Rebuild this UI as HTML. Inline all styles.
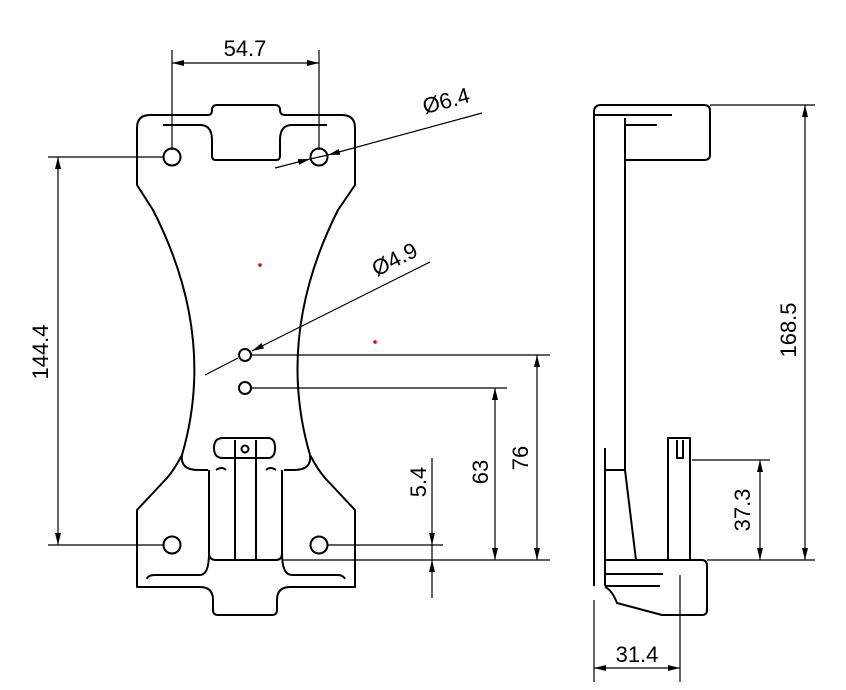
<!DOCTYPE html>
<html><head><meta charset="utf-8"><style>body{margin:0;background:#fff}svg{display:block}text{font-family:"Liberation Sans",sans-serif;font-size:22px;fill:#000}</style></head><body>
<svg width="846" height="690" viewBox="0 0 846 690" xmlns="http://www.w3.org/2000/svg">
<defs><marker id="a" viewBox="0 0 12 6" refX="12" refY="3" markerWidth="12" markerHeight="6" orient="auto-start-reverse" markerUnits="userSpaceOnUse"><path d="M0,0L12,3L0,6z" fill="#000"/></marker></defs>
<g fill="none" stroke="#000" stroke-width="2" stroke-linejoin="round">
<path d="M150,115 H208 Q212,115 212,110 Q212,105 217,105 H275 Q280,105 280,110 Q280,115 285,115 H342 Q355,115 355,128 V185 L338,210 Q275,335 310,455 Q318,470 325,478 L355,510 V587 H290 Q277,587 277,600 V610 Q277,615 272,615 H218 Q213,615 213,610 V600 Q213,587 200,587 H137 V510 L167,478 Q174,470 182,455 Q217,335 153,210 L137,185 V128 Q137,115 150,115Z"/>
<path d="M163,125 H200 Q212,125 212,140 V156 Q212,160 216,160 H276 Q280,160 280,156 V140 Q280,125 292,125 H327"/>
<path d="M182,455 Q180,470 198,470 H208"/><path d="M310,455 Q312,470 294,470 H284"/>
<path d="M216,470 Q222,466 226,470"/><path d="M266,470 Q270,466 276,470"/>
<path d="M209,470 V553 Q209,560 216,560 H276 Q282,560 282,553 V470"/>
<path d="M209,553 Q209,575 200,575 H155 Q148,575 147,579"/><path d="M282,553 Q282,575 292,575 H338 Q343,575 345,579"/>
<path d="M235,440 V560 M256,440 V560"/>
<path d="M223,438 H268 Q275,438 275,448 Q275,458 268,458 H223 Q214,458 214,448 Q214,438 223,438Z"/>
<circle cx="245" cy="449" r="3.5"/>
<circle cx="172" cy="157" r="8.5"/><circle cx="319" cy="157" r="8.5"/>
<circle cx="172" cy="545" r="8.5"/><circle cx="319" cy="545" r="8.5"/>
<circle cx="245" cy="355" r="6"/><circle cx="245" cy="388" r="6"/>
<path d="M594,586 V112 Q594,105 601,105 H704 Q710,105 710,111 V155 Q710,160 704,160 H625"/>
<path d="M594,115 H672 M625,125 H657 M625,118 V470 M605,448 V586 M605,470 H625 L636,560"/>
<path d="M605,560 H702 Q707,560 707,566 V610 Q707,615 702,615 H662 L617,603 Q612,590 605,587"/>
<path d="M605,574 H663 M605,586 H660"/>
<path d="M668,560 V438 H690 V560 M677,440 V458 H683 V440"/>
</g>
<g fill="none" stroke="#000" stroke-width="1.2">
<path d="M172,50 V150 M319,50 V150"/>
<path d="M172,63 H319" marker-start="url(#a)" marker-end="url(#a)"/>
<path d="M48,157 H164 M48,545 H164"/>
<path d="M58,157 V545" marker-start="url(#a)" marker-end="url(#a)"/>
<path d="M275,168 L310,159" marker-end="url(#a)"/><path d="M482,113 L328,155" marker-end="url(#a)"/><path d="M310,159 L328,155"/>
<path d="M205,375 L238,358"/><path d="M430,262 L252,351" marker-end="url(#a)"/>
<path d="M252,355 H550 M252,388 H507 M282,560 H550 M327,545 H443"/>
<path d="M537,355 V560" marker-start="url(#a)" marker-end="url(#a)"/>
<path d="M495,388 V560" marker-start="url(#a)" marker-end="url(#a)"/>
<path d="M432,458 V598"/>
<path d="M710,105 H815 M707,560 H815 M692,460 H770"/>
<path d="M805,105 V560" marker-start="url(#a)" marker-end="url(#a)"/>
<path d="M760,460 V560" marker-start="url(#a)" marker-end="url(#a)"/>
<path d="M594,600 V682 M680,575 V682"/>
<path d="M594,668 H680" marker-start="url(#a)" marker-end="url(#a)"/>
</g>
<path d="M429,533 L435,533 L432,545Z M429,572 L435,572 L432,560Z" fill="#000"/>
<circle cx="260" cy="265" r="1.8" fill="#e00"/><circle cx="375" cy="342" r="1.8" fill="#e00"/>
<text x="245" y="56" text-anchor="middle">54.7</text>
<text transform="translate(48,352) rotate(-90)" text-anchor="middle">144.4</text>
<text transform="translate(448,108) rotate(-15)" text-anchor="middle">Ø6.4</text>
<text transform="translate(398,266) rotate(-27)" text-anchor="middle">Ø4.9</text>
<text transform="translate(426,482) rotate(-90)" text-anchor="middle">5.4</text>
<text transform="translate(488,472) rotate(-90)" text-anchor="middle">63</text>
<text transform="translate(528,458) rotate(-90)" text-anchor="middle">76</text>
<text transform="translate(796,330) rotate(-90)" text-anchor="middle">168.5</text>
<text transform="translate(750,510) rotate(-90)" text-anchor="middle">37.3</text>
<text x="637" y="662" text-anchor="middle">31.4</text>
</svg>
</body></html>
